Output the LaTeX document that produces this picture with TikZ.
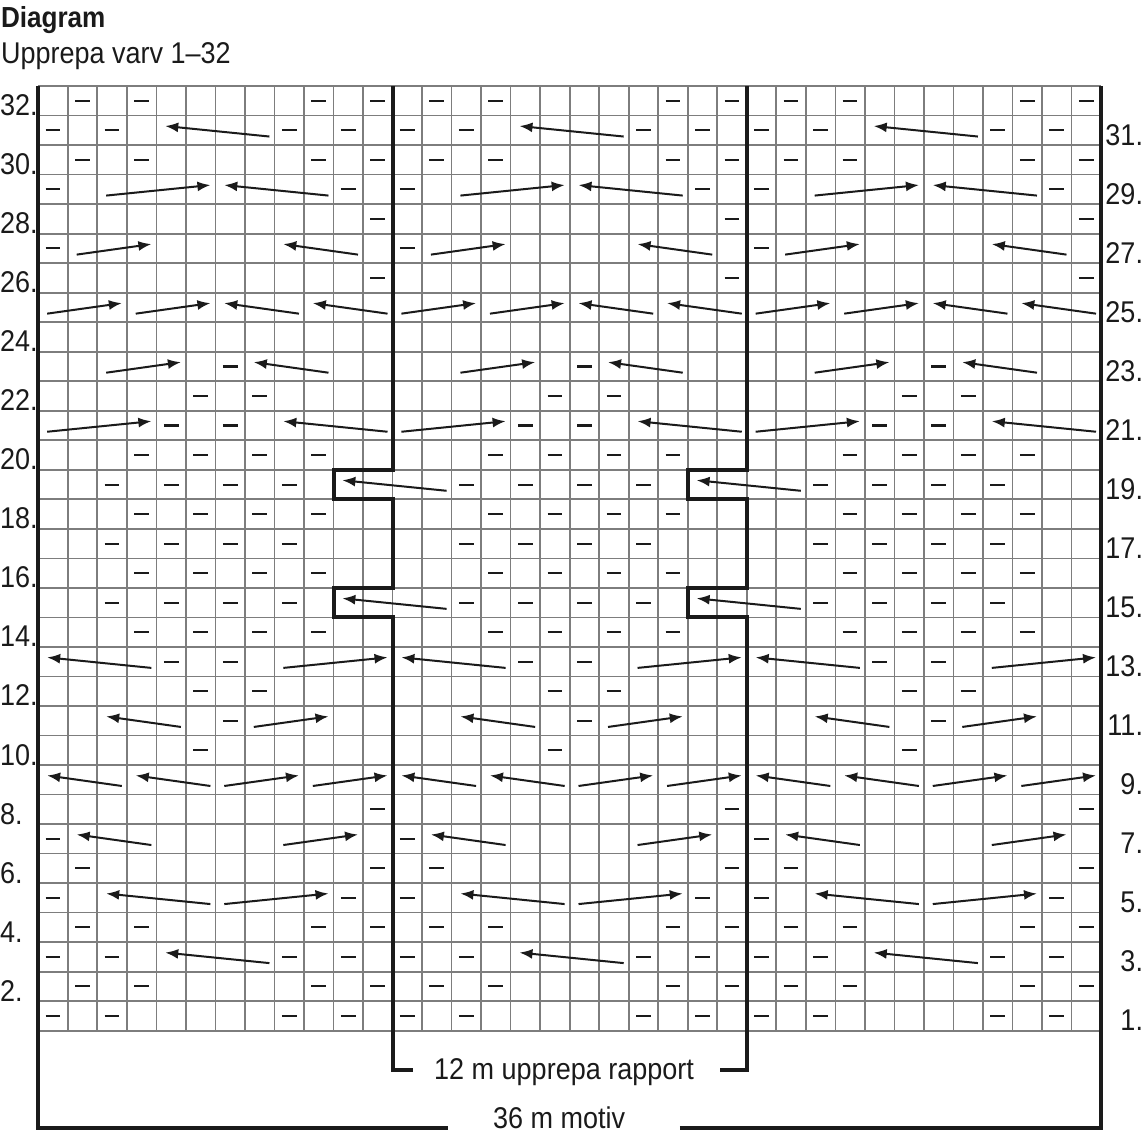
\documentclass[tikz,border=0pt]{standalone}
\usepackage{fontspec}
\setmainfont{Liberation Sans}[FakeStretch=0.9]
\usetikzlibrary{arrows.meta}
\definecolor{gridc}{RGB}{125,125,125}
\definecolor{ink}{RGB}{26,26,26}
\newcommand\lblfont{\fontsize{30}{36}\selectfont}
\tikzset{
  gridline/.style={line width=1.7pt, draw=gridc},
  purl/.style={line width=2.1pt, draw=ink},
  twist/.style={line width=2pt, draw=ink, -{Latex[length=13pt,width=10pt]}},
  thick border/.style={line width=4pt, draw=ink, line join=miter},
  lbl/.style={inner sep=0pt, outer sep=0pt, font=\lblfont, text=ink},
}
\begin{document}
\begin{tikzpicture}[x=1pt, y=-1pt]
\useasboundingbox (0,0) rectangle (1145,1148);
\begin{scope}[shift={(38.3,1030.7)}, x=29.52pt, y=29.52pt]
  % grid
  \foreach \i in {0,...,36} \draw[gridline] (\i,0) -- (\i,32);
  \foreach \j in {0,...,32} \draw[gridline] (0,\j) -- (36,\j);
  % purl dashes and twisted stitches, three repeats
  \foreach \o in {0,12,24} {
    \foreach \c/\r in {2/32,4/32,10/32,12/32,
                       1/31,3/31,9/31,11/31,
                       2/30,4/30,10/30,12/30,
                       1/29,11/29, 12/28, 1/27, 12/26,
                       7/23, 6/22,8/22, 5/21,7/21,
                       4/20,6/20,8/20,10/20, 3/19,5/19,7/19,9/19,
                       4/18,6/18,8/18,10/18, 3/17,5/17,7/17,9/17,
                       4/16,6/16,8/16,10/16, 3/15,5/15,7/15,9/15,
                       4/14,6/14,8/14,10/14, 5/13,7/13, 6/12,8/12,
                       7/11, 6/10, 12/8, 1/7, 2/6,12/6, 1/5,11/5,
                       2/4,4/4,10/4,12/4, 1/3,3/3,9/3,11/3,
                       2/2,4/2,10/2,12/2, 1/1,3/1,9/1,11/1}
      \draw[purl] ({\o+\c-0.75},{\r-0.5}) -- ({\o+\c-0.25},{\r-0.5});
    \foreach \a/\b/\r in {3/6/29, 2/4/27, 1/3/25, 4/6/25, 3/5/23, 1/4/21,
                          9/12/13, 8/10/11, 7/9/9, 10/12/9, 9/11/7, 7/10/5}
      \draw[twist] ({\o+\a-0.7},{\r-0.71}) -- ({\o+\b-0.17},{\r-0.354});
    \foreach \a/\b/\r in {5/8/31, 7/10/29, 9/11/27, 7/9/25, 10/12/25, 8/10/23,
                          9/12/21, 1/4/13, 3/5/11, 1/3/9, 4/6/9, 2/4/7, 3/6/5, 5/8/3}
      \draw[twist] ({\o+\b-0.17},{\r-0.71}) -- ({\o+\a-0.7},{\r-0.354});
  }
  \foreach \o in {0,12}
    \foreach \r in {19,15}
      \draw[twist] ({\o+14-0.17},{\r-0.71}) -- ({\o+11-0.7},{\r-0.354});
  % thick borders and repeat lines
  \draw[thick border] (0,32) -- (0,-3.306) -- (13.879,-3.306);
  \draw[thick border] (21.737,-3.306) -- (36,-3.306) -- (36,32);
  \draw[thick border] (12,32) -- (12,19) -- (10,19) -- (10,18) -- (12,18)
        -- (12,15) -- (10,15) -- (10,14) -- (12,14) -- (12,-1.331) -- (12.703,-1.331);
  \draw[thick border] (24,32) -- (24,19) -- (22,19) -- (22,18) -- (24,18)
        -- (24,15) -- (22,15) -- (22,14) -- (24,14) -- (24,-1.331) -- (23.093,-1.331);
  % row numbers
  \foreach \r in {2,4,...,32}
    \node[lbl, anchor=base west] (L\r) at (-1.297,\r-1) {\r.};
  \foreach \r in {1,3,...,31}
    \node[lbl, anchor=base east] (R\r) at (37.422,\r-1) {\r.};
  % bottom labels
  \node[lbl, anchor=base] (rep) at (17.81,-1.646) {12 m upprepa rapport};
  \node[lbl, anchor=base] (mot) at (17.64,-3.303) {36 m motiv};
  % titles
  \node[lbl, anchor=base west, font=\fontsize{29}{34}\selectfont\bfseries] (title) at (-1.263,33.977) {Diagram};
  \node[lbl, anchor=base west] (sub) at (-1.263,32.77) {Upprepa varv 1–32};
\end{scope}
\end{tikzpicture}
\end{document}
